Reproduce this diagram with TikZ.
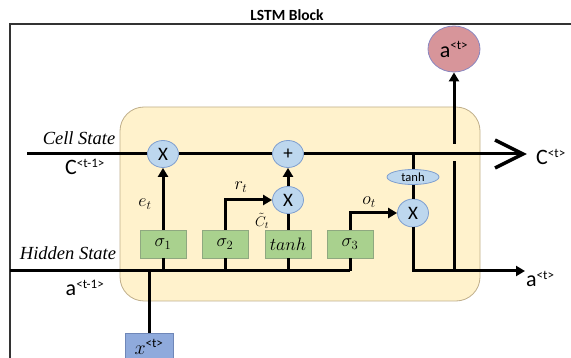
\RequirePackage{fix-cm}
\documentclass[tikz,border=0pt]{standalone}
\usepackage{fontspec}
\setmainfont{Carlito}
\newfontfamily\lblserif{Liberation Serif}
\usetikzlibrary{arrows.meta,shapes.geometric}
\definecolor{yelf}{HTML}{FFF2CC}
\definecolor{yelb}{HTML}{BFAE8A}
\definecolor{opf}{HTML}{BDD7EE}
\definecolor{opb}{HTML}{7F9FCF}
\definecolor{gf}{HTML}{A9D18E}
\definecolor{gb}{HTML}{8FA880}
\definecolor{xf}{HTML}{8FAADC}
\definecolor{xb}{HTML}{6F87B8}
\definecolor{af}{HTML}{D7959A}
\definecolor{ab}{HTML}{8A87C0}
\tikzset{
 ln/.style={line width=3pt},
 arr/.style={line width=3pt,-{Triangle[length=9pt,width=10pt]}},
 opnode/.style={ellipse, draw=opb, fill=opf, line width=0.8pt, minimum width=31pt, minimum height=27pt, inner sep=0pt, font=\fontsize{19}{19}\selectfont},
 gate/.style={rectangle, draw=gb, fill=gf, line width=0.8pt, minimum width=46pt, minimum height=28pt, inner sep=0pt, font=\fontsize{18}{18}\selectfont},
 lbl/.style={font=\fontsize{18}{18}\selectfont, inner sep=0pt},
 big/.style={font=\fontsize{22}{22}\selectfont, inner sep=0pt},
 state/.style={font=\lblserif\itshape\fontsize{18.5}{18.5}\selectfont, inner sep=0pt},
}
\newcommand{\supsz}{\fontsize{13}{13}\selectfont}
\begin{document}
\begin{tikzpicture}[x=1pt,y=-1pt]
\useasboundingbox (0,0) rectangle (571,358);
\clip (0,0) rectangle (571,358);
% outer frame
\draw[line width=1.2pt, black!80] (10,380) -- (10,24) -- (600,24);
\node[font=\bfseries\fontsize{15.5}{15.5}\selectfont, inner sep=0pt] (title) at (287,15) {LSTM Block};
% yellow block
\draw[fill=yelf, draw=yelb, line width=0.8pt, rounded corners=24pt] (120,107) rectangle (480,301);

% nodes
\node[opnode] (X1) at (163,154) {X};
\node[opnode] (plus) at (288,154) {+};
\node[opnode] (X2) at (288,200) {X};
\node[ellipse, draw=opb, fill=opf, line width=0.8pt, minimum width=52pt, minimum height=15pt, inner sep=0pt, font=\fontsize{12.5}{12.5}\selectfont] (tanhE) at (413,177) {tanh};
\node[opnode, minimum height=28pt] (X3) at (413,213) {X};
\node[gate] (s1) at (163,244) {$\sigma_1$};
\node[gate] (s2) at (225,244) {$\sigma_2$};
\node[gate] (tb) at (288,244) {$tanh$};
\node[gate] (s3) at (350,244) {$\sigma_3$};
\node[rectangle, draw=xb, fill=xf, line width=0.8pt, minimum width=48pt, minimum height=28pt, inner sep=0pt, font=\fontsize{20}{20}\selectfont] (xt) at (149,347) {$x$\textsuperscript{\supsz<t>}};
\node[ellipse, draw=ab, fill=af, line width=0.8pt, minimum width=52pt, minimum height=46pt, inner sep=0pt, font=\fontsize{22}{22}\selectfont] (at) at (454,49) {a\textsuperscript{\supsz<t>}};

% coordinates
\coordinate (cin) at (27,154);
\coordinate (cend) at (520,154);
\coordinate (tip) at (523,154);
\coordinate (hin) at (10,271);
\coordinate (tap) at (413,154);
\coordinate (aout) at (525,271);
\coordinate (vb) at (454,271);
\coordinate (vlow) at (454,161);
\coordinate (vhigh) at (454,144);

% cell state line
\draw[ln] (cin) -- (X1.west);
\draw[ln] (X1.east) -- (plus.west);
\draw[ln] (plus.east) -- (cend);
\draw[line width=3.5pt, line join=miter] ([shift={(-28,-14)}]tip) -- (tip) -- ([shift={(-28,14)}]tip);

% hidden line
\draw[ln] (hin) -- (s3.south |- hin);
\draw[ln] (s1.south) -- (s1.south |- hin);
\draw[ln] (s2.south) -- (s2.south |- hin);
\draw[ln] (tb.south) -- (tb.south |- hin);
\draw[ln] (s3.south) -- (s3.south |- hin);
\draw[ln] (xt.north) -- (xt.north |- hin);

% gates
\draw[arr] (s1.north) -- (X1.south);
\draw[arr] (s2.north) |- (X2.west);
\draw[ln] (tb.north) -- (X2.south);
\draw[arr] (X2.north) -- (plus.south);
\draw[ln] (tap) -- (tanhE.north);
\draw[ln] (tanhE.south) -- (X3.north);
\draw[arr] (s3.north) |- (X3.west);
\draw[arr] (X3.south) |- (aout);
\draw[ln] (vb) -- (vlow);
\draw[arr] (vhigh) -- (at.south);

% labels
\node[state] (cs) at (79,138) {Cell State};
\node[state] (hs) at (68,253) {Hidden State};
\node[big, anchor=base] (cprev) at (85,175) {C\textsuperscript{\supsz<t-1>}};
\node[big, anchor=base] (aprev) at (85,296) {a\textsuperscript{\supsz<t-1>}};
\node[big, anchor=base west] (cnext) at (536,165) {C\textsuperscript{\supsz<t>}};
\node[big, anchor=base west] (anext) at (526,287) {a\textsuperscript{\supsz<t>}};
\node[lbl] (et) at (145,204) {$e_t$};
\node[lbl] (rt) at (241,187) {$r_t$};
\node[lbl, font=\fontsize{14}{14}\selectfont] (ct) at (262,221) {$\tilde{C}_t$};
\node[lbl] (ot) at (369,202) {$o_t$};
\end{tikzpicture}
\end{document}
